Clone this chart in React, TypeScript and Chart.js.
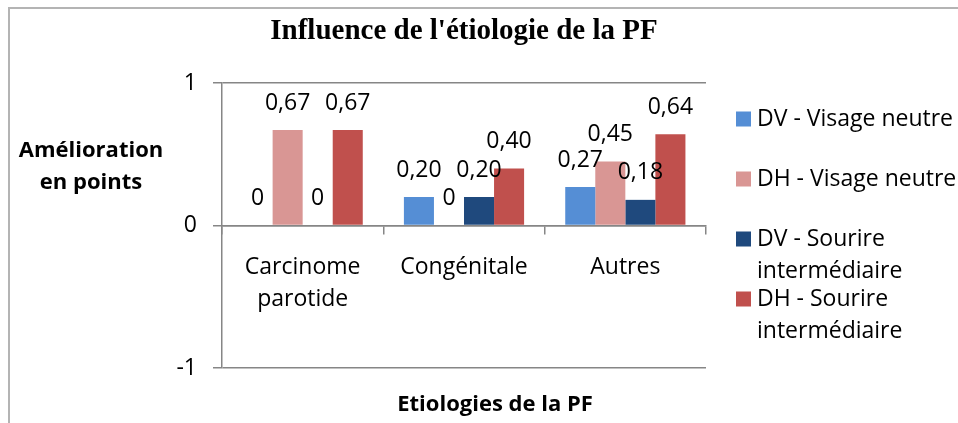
import { useEffect, useRef } from "react";
import { Chart, registerables } from "chart.js";

Chart.register(...registerables);

const categories: (string | string[])[] = [["Carcinome", "parotide"], "Congénitale", "Autres"];
const seriesNames: string[][] = [
  ["DV - Visage neutre"],
  ["DH - Visage neutre"],
  ["DV - Sourire", "intermédiaire"],
  ["DH - Sourire", "intermédiaire"],
];
const dvVisageNeutre = [0, 0.2, 0.27];
const dhVisageNeutre = [0.67, 0, 0.45];
const dvSourireInter = [0, 0.2, 0.18];
const dhSourireInter = [0.67, 0.4, 0.64];
const seriesColors = ["#558ED5", "#D99694", "#1F497D", "#C0504D"];
const yMin = -1;
const yMax = 1;
const yStep = 1;

const chartTitle = "Influence de l'étiologie de la PF";
const yTitleLines = ["Amélioration", "en points"];
const xTitle = "Etiologies de la PF";

const FONT = "'Open Sans'";
const GRID = "#868686";

const fmt = (v: number) => (v === 0 ? "0" : v.toFixed(2).replace(".", ","));

const extras = {
  id: "extras",
  afterDatasetsDraw(chart: any) {
    const ctx = chart.ctx;
    ctx.save();
    ctx.font = `23px ${FONT}`;
    ctx.fillStyle = "#000";
    ctx.textAlign = "center";
    ctx.textBaseline = "middle";
    chart.data.datasets.forEach((ds: any, i: number) => {
      const meta = chart.getDatasetMeta(i);
      meta.data.forEach((el: any, j: number) => {
        ctx.fillText(fmt(ds.data[j]), el.x, el.y - 27);
      });
    });
    ctx.restore();
  },
  afterDraw(chart: any) {
    const ctx = chart.ctx;
    const a = chart.chartArea;
    ctx.save();
    // legend
    ctx.textAlign = "left";
    ctx.textBaseline = "middle";
    ctx.font = `23px ${FONT}`;
    seriesNames.forEach((lines, i) => {
      const cy = a.top + 36 + i * 60;
      ctx.fillStyle = seriesColors[i];
      ctx.fillRect(a.right + 30, cy - 7.5, 15, 15);
      ctx.fillStyle = "#000";
      lines.forEach((t, k) => ctx.fillText(t, a.right + 51, cy + k * 32));
    });
    // y title
    ctx.font = `bold 22px ${FONT}`;
    ctx.textAlign = "center";
    yTitleLines.forEach((t, k) => ctx.fillText(t, a.left - 131, a.top + 68 + k * 32));
    // x title
    ctx.fillText(xTitle, a.left + 273, a.bottom + 37);
    ctx.restore();
  },
};

export default function App() {
  const ref = useRef<HTMLCanvasElement | null>(null);
  useEffect(() => {
    if (!ref.current) return;
    const chart = new Chart(ref.current, {
      type: "bar",
      data: {
        labels: categories,
        datasets: [dvVisageNeutre, dhVisageNeutre, dvSourireInter, dhSourireInter].map((d, i) => ({
          label: seriesNames[i].join(" "),
          data: d,
          backgroundColor: seriesColors[i],
          borderWidth: 0,
          categoryPercentage: 0.745,
          barPercentage: 1,
        })),
      },
      options: {
        responsive: false,
        animation: false,
        layout: { padding: { left: 0, right: 252, top: 0, bottom: 55 } },
        plugins: {
          legend: { display: false },
          tooltip: { enabled: false },
          title: {
            display: true,
            text: chartTitle,
            fullSize: false,
            color: "#000",
            font: { family: "'Liberation Serif'", size: 29, weight: "bold", lineHeight: 1.2 },
            padding: { top: 5, bottom: 34.2 },
          },
        },
        scales: {
          x: {
            position: { y: 0 } as any,
            offset: true,
            grid: { drawOnChartArea: false, drawTicks: true, tickLength: 8, color: GRID, lineWidth: 1.5, offset: true },
            border: { display: true, color: GRID, width: 1.5 },
            ticks: {
              color: "#000",
              padding: 18,
              maxRotation: 0,
              font: { family: FONT, size: 23, lineHeight: 1.391 },
            },
          },
          y: {
            min: yMin,
            max: yMax,
            ticks: {
              stepSize: yStep,
              color: "#000",
              padding: 16,
              font: { family: FONT, size: 23 },
              callback: (v: any) => String(v),
            },
            grid: { color: GRID, lineWidth: 1.5, tickLength: 9, drawTicks: true },
            border: { display: true, color: GRID, width: 1.5 },
            afterFit: (scale: any) => {
              scale.width = 212;
            },
          },
        },
      },
      plugins: [extras],
    });
    return () => chart.destroy();
  }, []);
  return (
    <div
      style={{
        position: "fixed",
        left: 8,
        top: 7,
        width: 948,
        height: 414,
        borderLeft: "2px solid #b4b4b4",
        borderTop: "2px solid #b4b4b4",
        background: "#fff",
      }}
    >
      <canvas ref={ref} width={948} height={414} style={{ display: "block" }} />
    </div>
  );
}
